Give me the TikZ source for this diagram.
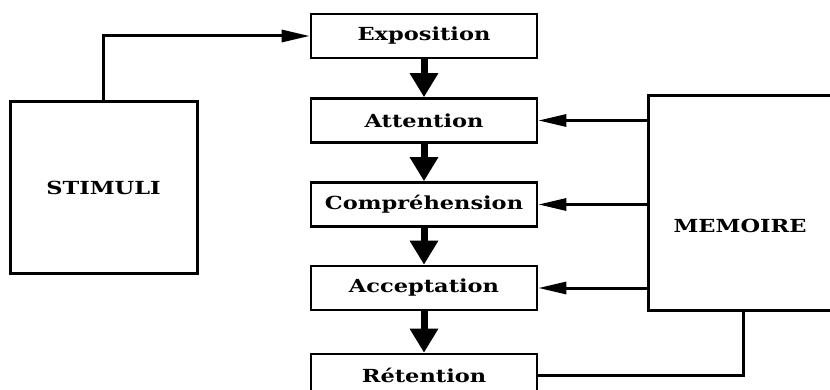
\documentclass[tikz,border=0pt]{standalone}
\usepackage{fontspec}
\setmainfont[FakeStretch=1.25]{DejaVu Serif}
\usetikzlibrary{arrows.meta}
\begin{document}
\begin{tikzpicture}[x=1pt,y=-1pt,
  lbl/.style={font=\fontsize{18}{20}\selectfont\bfseries},
  box/.style={draw,line width=2.6pt,rectangle,inner sep=0pt,lbl},
  flowbox/.style={box,minimum width=226pt,minimum height=44pt},
  downarrow/.style={line width=7pt,-{Triangle[width=27pt,length=24pt]}},
  sidearrow/.style={line width=3pt,-{Triangle[width=12pt,length=28pt]}},
  plainline/.style={line width=3pt}]
\useasboundingbox (0,0) rectangle (830,390);
\node[box,minimum width=187pt,minimum height=171pt,line width=3pt] (stim) at (103.5,187.5) {STIMULI};
\node[flowbox] (expo) at (424,36) {Exposition};
\node[flowbox] (attn) at (424,120.5) {Attention};
\node[flowbox] (compr) at (424,204.5) {Compréhension};
\node[flowbox] (accept) at (424,288) {Acceptation};
\node[flowbox,minimum height=42pt] (reten) at (424,375) {Rétention};
\node[draw,line width=3pt,rectangle,minimum width=200pt,minimum height=214pt,inner sep=0pt] (memo) at (748,203) {};
\node[lbl] (memotext) at (740,226) {MEMOIRE};
\coordinate (mb) at (743,310);
\draw[sidearrow] (stim.north) |- (expo.west);
\draw[downarrow] (expo.south) -- (attn.north);
\draw[downarrow] (attn.south) -- (compr.north);
\draw[downarrow] (compr.south) -- (accept.north);
\draw[downarrow] (accept.south) -- (reten.north);
\draw[sidearrow] (memo.west |- attn.east) -- (attn.east);
\draw[sidearrow] (memo.west |- compr.east) -- (compr.east);
\draw[sidearrow] (memo.west |- accept.east) -- (accept.east);
\draw[plainline] (reten.east) -| (mb);
\end{tikzpicture}
\end{document}
